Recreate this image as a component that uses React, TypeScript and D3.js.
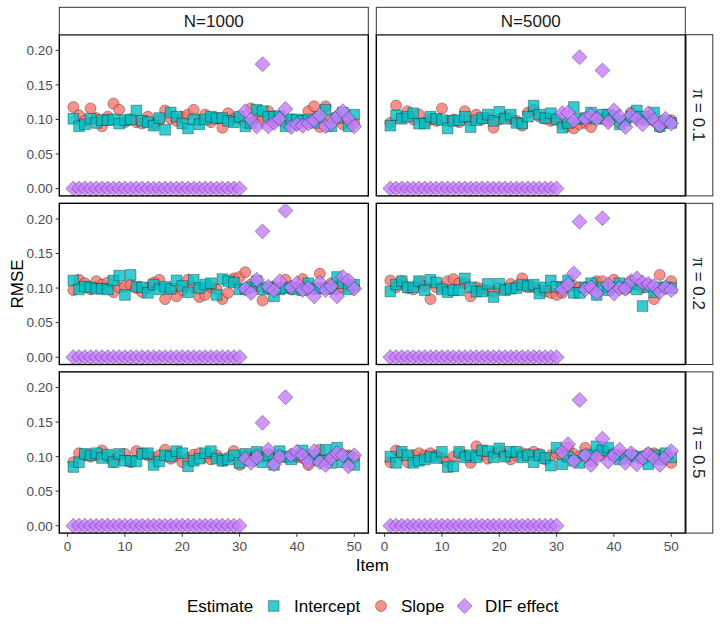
import * as d3 from 'd3'

const items = d3.range(1, 51)
const sampleSizes = ['N=1000', 'N=5000']
const piLevels = ['0.1', '0.2', '0.5']
const estimates = ['Intercept', 'Slope', 'DIF effect']
const estimateColors = ['#00BFC4', '#F8766D', '#C77CFF']
const xTicks = [0, 10, 20, 30, 40, 50]
const yTicks = [0, 0.05, 0.1, 0.15, 0.2]

// N=1000, pi=0.1
const intercept1000p1 = [0.101, 0.090, 0.093, 0.101, 0.095, 0.099, 0.099, 0.100, 0.094, 0.099, 0.100, 0.113, 0.098, 0.096, 0.091, 0.102, 0.085, 0.110, 0.104, 0.094, 0.087, 0.100, 0.093, 0.100, 0.104, 0.102, 0.102, 0.098, 0.096, 0.104, 0.090, 0.095, 0.114, 0.112, 0.104, 0.104, 0.105, 0.090, 0.100, 0.100, 0.098, 0.100, 0.095, 0.104, 0.114, 0.090, 0.102, 0.110, 0.090, 0.107]
const slope1000p1 = [0.118, 0.106, 0.098, 0.116, 0.102, 0.090, 0.104, 0.123, 0.114, 0.096, 0.100, 0.096, 0.094, 0.104, 0.093, 0.099, 0.113, 0.101, 0.098, 0.104, 0.107, 0.114, 0.099, 0.107, 0.096, 0.101, 0.088, 0.109, 0.101, 0.104, 0.095, 0.116, 0.102, 0.099, 0.112, 0.098, 0.101, 0.095, 0.100, 0.093, 0.098, 0.112, 0.119, 0.089, 0.119, 0.100, 0.104, 0.093, 0.098, 0.095]
const dif1000p1 = [0, 0, 0, 0, 0, 0, 0, 0, 0, 0, 0, 0, 0, 0, 0, 0, 0, 0, 0, 0, 0, 0, 0, 0, 0, 0, 0, 0, 0, 0, 0.112, 0.100, 0.090, 0.180, 0.090, 0.095, 0.101, 0.115, 0.089, 0.093, 0.091, 0.094, 0.099, 0.106, 0.090, 0.094, 0.104, 0.112, 0.101, 0.090]

// N=5000, pi=0.1
const intercept5000p1 = [0.091, 0.106, 0.101, 0.104, 0.109, 0.094, 0.094, 0.104, 0.101, 0.099, 0.087, 0.098, 0.099, 0.104, 0.089, 0.099, 0.102, 0.107, 0.098, 0.111, 0.101, 0.107, 0.095, 0.094, 0.104, 0.120, 0.107, 0.102, 0.109, 0.100, 0.088, 0.095, 0.118, 0.101, 0.102, 0.110, 0.101, 0.107, 0.107, 0.104, 0.093, 0.098, 0.104, 0.113, 0.104, 0.100, 0.110, 0.090, 0.098, 0.095]
const slope5000p1 = [0.095, 0.120, 0.102, 0.112, 0.100, 0.107, 0.095, 0.100, 0.098, 0.116, 0.098, 0.100, 0.096, 0.112, 0.098, 0.107, 0.100, 0.102, 0.088, 0.100, 0.104, 0.101, 0.098, 0.091, 0.110, 0.114, 0.104, 0.101, 0.098, 0.100, 0.093, 0.090, 0.087, 0.093, 0.095, 0.089, 0.102, 0.101, 0.098, 0.104, 0.095, 0.099, 0.110, 0.102, 0.100, 0.104, 0.098, 0.089, 0.095, 0.099]
const dif5000p1 = [0, 0, 0, 0, 0, 0, 0, 0, 0, 0, 0, 0, 0, 0, 0, 0, 0, 0, 0, 0, 0, 0, 0, 0, 0, 0, 0, 0, 0, 0, 0.109, 0.110, 0.098, 0.190, 0.101, 0.106, 0.101, 0.171, 0.096, 0.113, 0.104, 0.089, 0.106, 0.101, 0.093, 0.109, 0.099, 0.091, 0.101, 0.094]

// N=1000, pi=0.2
const intercept1000p2 = [0.111, 0.098, 0.102, 0.101, 0.099, 0.099, 0.098, 0.111, 0.118, 0.090, 0.119, 0.102, 0.101, 0.093, 0.105, 0.098, 0.102, 0.099, 0.111, 0.103, 0.094, 0.112, 0.100, 0.105, 0.107, 0.090, 0.113, 0.110, 0.108, 0.098, 0.099, 0.101, 0.110, 0.098, 0.101, 0.088, 0.098, 0.100, 0.101, 0.098, 0.097, 0.107, 0.099, 0.100, 0.099, 0.099, 0.116, 0.107, 0.098, 0.105]
const slope1000p2 = [0.097, 0.112, 0.107, 0.098, 0.110, 0.105, 0.108, 0.094, 0.101, 0.102, 0.105, 0.100, 0.094, 0.100, 0.108, 0.112, 0.084, 0.098, 0.088, 0.097, 0.112, 0.101, 0.087, 0.090, 0.101, 0.098, 0.084, 0.093, 0.114, 0.116, 0.123, 0.105, 0.101, 0.082, 0.099, 0.102, 0.100, 0.112, 0.098, 0.101, 0.113, 0.101, 0.099, 0.121, 0.101, 0.107, 0.098, 0.101, 0.105, 0.101]
const dif1000p2 = [0, 0, 0, 0, 0, 0, 0, 0, 0, 0, 0, 0, 0, 0, 0, 0, 0, 0, 0, 0, 0, 0, 0, 0, 0, 0, 0, 0, 0, 0, 0.099, 0.093, 0.112, 0.182, 0.102, 0.097, 0.110, 0.212, 0.101, 0.107, 0.097, 0.100, 0.088, 0.108, 0.097, 0.103, 0.088, 0.116, 0.111, 0.099]

// N=5000, pi=0.2
const intercept5000p2 = [0.095, 0.105, 0.110, 0.101, 0.101, 0.110, 0.097, 0.112, 0.108, 0.098, 0.094, 0.097, 0.097, 0.114, 0.101, 0.095, 0.095, 0.106, 0.087, 0.106, 0.097, 0.099, 0.100, 0.105, 0.103, 0.105, 0.092, 0.101, 0.111, 0.102, 0.101, 0.111, 0.093, 0.093, 0.101, 0.107, 0.090, 0.101, 0.097, 0.101, 0.107, 0.101, 0.105, 0.098, 0.074, 0.101, 0.094, 0.101, 0.101, 0.100]
const slope5000p2 = [0.111, 0.101, 0.110, 0.100, 0.098, 0.108, 0.103, 0.084, 0.101, 0.101, 0.110, 0.113, 0.107, 0.107, 0.088, 0.101, 0.099, 0.097, 0.095, 0.100, 0.098, 0.106, 0.103, 0.114, 0.101, 0.101, 0.097, 0.095, 0.093, 0.090, 0.093, 0.103, 0.103, 0.101, 0.101, 0.101, 0.110, 0.110, 0.101, 0.112, 0.101, 0.098, 0.110, 0.105, 0.101, 0.105, 0.084, 0.119, 0.100, 0.110]
const dif5000p2 = [0, 0, 0, 0, 0, 0, 0, 0, 0, 0, 0, 0, 0, 0, 0, 0, 0, 0, 0, 0, 0, 0, 0, 0, 0, 0, 0, 0, 0, 0, 0.098, 0.105, 0.121, 0.196, 0.098, 0.101, 0.093, 0.201, 0.105, 0.092, 0.100, 0.099, 0.110, 0.114, 0.108, 0.106, 0.103, 0.094, 0.101, 0.097]

// N=1000, pi=0.5
const intercept1000p5 = [0.085, 0.092, 0.104, 0.102, 0.105, 0.098, 0.103, 0.092, 0.104, 0.094, 0.094, 0.093, 0.104, 0.105, 0.088, 0.093, 0.102, 0.100, 0.108, 0.105, 0.086, 0.094, 0.097, 0.105, 0.108, 0.097, 0.094, 0.096, 0.102, 0.091, 0.104, 0.094, 0.107, 0.092, 0.102, 0.088, 0.108, 0.100, 0.096, 0.102, 0.109, 0.097, 0.102, 0.094, 0.110, 0.091, 0.113, 0.092, 0.100, 0.088]
const slope1000p5 = [0.092, 0.105, 0.102, 0.100, 0.102, 0.109, 0.100, 0.092, 0.102, 0.104, 0.092, 0.108, 0.105, 0.102, 0.099, 0.102, 0.110, 0.097, 0.102, 0.092, 0.098, 0.103, 0.105, 0.099, 0.096, 0.102, 0.094, 0.099, 0.108, 0.088, 0.102, 0.098, 0.104, 0.099, 0.104, 0.096, 0.102, 0.099, 0.102, 0.099, 0.098, 0.088, 0.102, 0.110, 0.096, 0.099, 0.102, 0.102, 0.102, 0.098]
const dif1000p5 = [0, 0, 0, 0, 0, 0, 0, 0, 0, 0, 0, 0, 0, 0, 0, 0, 0, 0, 0, 0, 0, 0, 0, 0, 0, 0, 0, 0, 0, 0, 0.097, 0.091, 0.099, 0.149, 0.110, 0.089, 0.100, 0.186, 0.102, 0.107, 0.102, 0.092, 0.108, 0.092, 0.088, 0.098, 0.105, 0.102, 0.086, 0.102]

// N=5000, pi=0.5
const intercept5000p5 = [0.100, 0.091, 0.107, 0.102, 0.091, 0.094, 0.096, 0.100, 0.098, 0.107, 0.085, 0.086, 0.107, 0.099, 0.102, 0.099, 0.109, 0.108, 0.099, 0.112, 0.100, 0.107, 0.107, 0.099, 0.102, 0.092, 0.102, 0.098, 0.087, 0.113, 0.089, 0.100, 0.094, 0.091, 0.102, 0.103, 0.115, 0.109, 0.113, 0.102, 0.096, 0.098, 0.102, 0.100, 0.097, 0.089, 0.102, 0.096, 0.105, 0.099]
const slope5000p5 = [0.092, 0.109, 0.102, 0.092, 0.102, 0.105, 0.102, 0.105, 0.102, 0.098, 0.092, 0.100, 0.105, 0.102, 0.091, 0.115, 0.102, 0.097, 0.105, 0.108, 0.102, 0.096, 0.102, 0.105, 0.104, 0.107, 0.104, 0.096, 0.102, 0.105, 0.102, 0.113, 0.104, 0.100, 0.113, 0.093, 0.102, 0.102, 0.105, 0.102, 0.103, 0.102, 0.102, 0.100, 0.100, 0.105, 0.105, 0.102, 0.100, 0.091]
const dif5000p5 = [0, 0, 0, 0, 0, 0, 0, 0, 0, 0, 0, 0, 0, 0, 0, 0, 0, 0, 0, 0, 0, 0, 0, 0, 0, 0, 0, 0, 0, 0, 0.107, 0.118, 0.094, 0.182, 0.102, 0.088, 0.099, 0.126, 0.093, 0.102, 0.110, 0.091, 0.105, 0.089, 0.098, 0.104, 0.097, 0.088, 0.099, 0.108]

// rows = pi levels, cols = sample sizes; each cell: [intercept, slope, dif]
const panelData = [
  [[intercept1000p1, slope1000p1, dif1000p1], [intercept5000p1, slope5000p1, dif5000p1]],
  [[intercept1000p2, slope1000p2, dif1000p2], [intercept5000p2, slope5000p2, dif5000p2]],
  [[intercept1000p5, slope1000p5, dif1000p5], [intercept5000p5, slope5000p5, dif5000p5]],
]

const W = 720
const H = 630
const panelW = 309
const panelH = 161.2
const gap = 7.4
const left = 59.3
const top = 34.7
const stripH = 27.4
const stripW = 26.7
const font = '"Liberation Sans", Arial, Helvetica, sans-serif'

const symbolTypes = [d3.symbolSquare, d3.symbolCircle, d3.symbolDiamond2]
const symbolSizes = [114, 95, 143]
// slope under intercept, DIF on top
const drawOrder = [1, 0, 2]

const xr = 49 * 0.05
const xScale = d3.scaleLinear().domain([1 - xr, 50 + xr]).range([0, panelW])

const yMax = d3.max(panelData.flat(3)) as number
const yScale = d3.scaleLinear().domain([-0.05 * yMax, 1.05 * yMax]).range([panelH, 0])

const fmt = d3.format('.2f')

function Panel({ row, col }: { row: number; col: number }) {
  const x0 = left + col * (panelW + gap + 0.6)
  const y0 = top + row * (panelH + gap)
  const series = panelData[row][col]
  return (
    <g transform={`translate(${x0},${y0})`}>
      <rect width={panelW} height={panelH} fill="white" />
      {drawOrder.map(k => {
        const path = d3.symbol().type(symbolTypes[k]).size(symbolSizes[k])() as string
        return (
          <g key={k}>
            {items.map((it, i) => (
              <path
                key={it}
                d={path}
                transform={`translate(${xScale(it)},${yScale(series[k][i])})`}
                fill={estimateColors[k]}
                fillOpacity={0.8}
                stroke="#000"
                strokeOpacity={0.55}
                strokeWidth={0.6}
              />
            ))}
          </g>
        )
      })}
      <rect width={panelW} height={panelH} fill="none" stroke="#000" strokeWidth={1.4} />
      {col === 0 &&
        yTicks.map(t => (
          <g key={t} transform={`translate(0,${yScale(t)})`}>
            <line x1={-3.7} x2={0} stroke="#333" strokeWidth={1} />
            <text x={-6.5} dy="0.36em" textAnchor="end" fontSize={13.5} fill="#4D4D4D" fontFamily={font}>
              {fmt(t)}
            </text>
          </g>
        ))}
      {row === 2 &&
        xTicks.map(t => (
          <g key={t} transform={`translate(${xScale(t)},${panelH})`}>
            <line y1={0} y2={3.7} stroke="#333" strokeWidth={1} />
            <text y={18} textAnchor="middle" fontSize={13.5} fill="#4D4D4D" fontFamily={font}>
              {t}
            </text>
          </g>
        ))}
      {row === 0 && (
        <g transform={`translate(0,${-stripH})`}>
          <rect width={panelW} height={stripH} fill="white" stroke="#333" strokeWidth={1} />
          <text x={panelW / 2} y={stripH / 2} dy="0.36em" textAnchor="middle" fontSize={17} fill="#1A1A1A" fontFamily={font}>
            {sampleSizes[col]}
          </text>
        </g>
      )}
      {col === 1 && (
        <g transform={`translate(${panelW + 0.8},0)`}>
          <rect width={stripW} height={panelH} fill="white" stroke="#333" strokeWidth={1} />
          <text
            transform={`translate(${stripW / 2},${panelH / 2}) rotate(90)`}
            dy="0.36em"
            textAnchor="middle"
            fontSize={17}
            fill="#1A1A1A"
            fontFamily={font}
          >
            <tspan fontFamily='"Liberation Serif", "DejaVu Serif", serif' fontSize={18}>π</tspan>
            {' = ' + piLevels[row]}
          </text>
        </g>
      )}
    </g>
  )
}

function Legend() {
  const cy = 606
  const keyX = [273.7, 381, 464.5]
  const labelX = [294, 401, 485]
  return (
    <g fontFamily={font} fontSize={17} fill="#000">
      <text x={187} y={cy} dy="0.36em">Estimate</text>
      {estimates.map((e, k) => (
        <g key={e}>
          <path
            d={d3.symbol().type(symbolTypes[k]).size(symbolSizes[k])() as string}
            transform={`translate(${keyX[k]},${cy})`}
            fill={estimateColors[k]}
            fillOpacity={0.8}
            stroke="#000"
            strokeOpacity={0.55}
            strokeWidth={0.6}
          />
          <text x={labelX[k]} y={cy} dy="0.36em">{e}</text>
        </g>
      ))}
    </g>
  )
}

export default function App() {
  const rows = [0, 1, 2]
  const cols = [0, 1]
  const plotRight = left + 2 * panelW + gap + 0.6
  const plotBottom = top + 3 * panelH + 2 * gap
  return (
    <svg width={W} height={H} style={{ position: 'absolute', left: 0, top: 0, background: 'white' }}>
      <rect width={W} height={H} fill="white" />
      {rows.map(r => cols.map(c => <Panel key={`${r}-${c}`} row={r} col={c} />))}
      <text x={(left + plotRight) / 2} y={plotBottom + 38} textAnchor="middle" fontSize={17} fontFamily={font}>
        Item
      </text>
      <text
        transform={`translate(${23},${(top + plotBottom) / 2}) rotate(-90)`}
        textAnchor="middle"
        fontSize={17}
        fontFamily={font}
      >
        RMSE
      </text>
      <Legend />
    </svg>
  )
}
